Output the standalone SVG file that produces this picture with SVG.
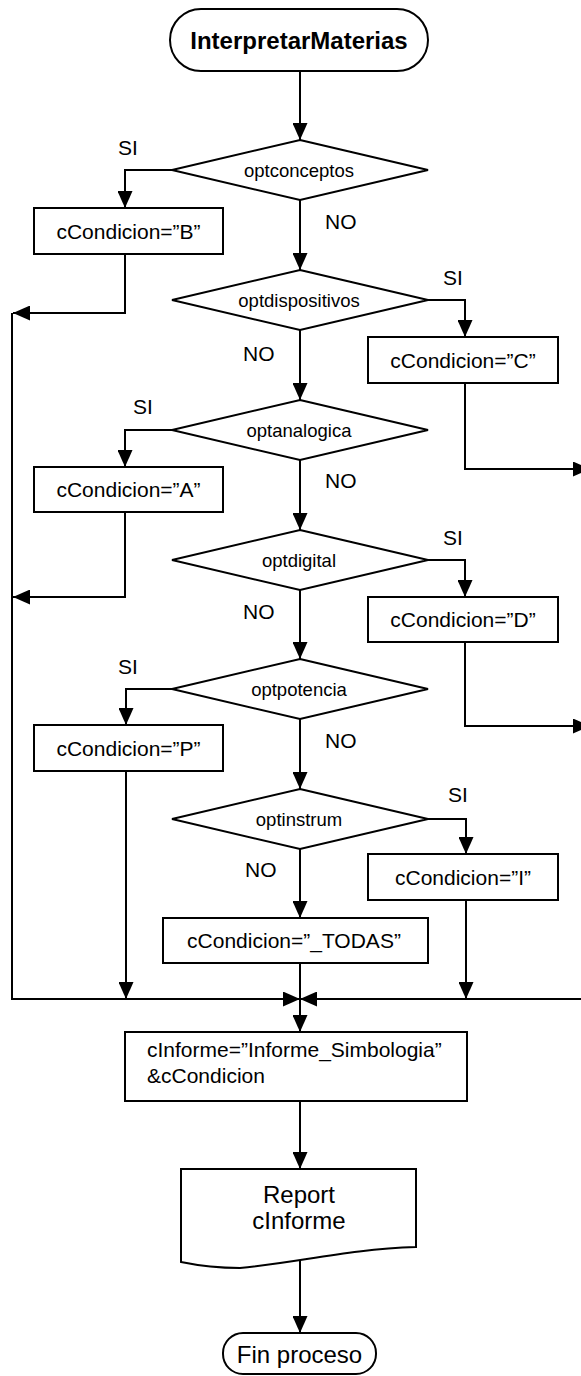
<svg xmlns="http://www.w3.org/2000/svg" width="581" height="1376" viewBox="0 0 581 1376">
  <style>
    .shape { fill: #ffffff; stroke: #000000; stroke-width: 2; }
    .conn { fill: none; stroke: #000000; stroke-width: 2; marker-end: url(#arrow); }
    text { font-family: "Liberation Sans", Arial, sans-serif; fill: #000000; }
    .term { font-size: 24px; font-weight: bold; text-anchor: middle; }
    .io { font-size: 24px; text-anchor: middle; }
    .dec { font-size: 18.5px; text-anchor: middle; }
    .proc { font-size: 21px; text-anchor: middle; }
    .lbl { font-size: 21px; }
  </style>
  <defs>
    <marker id="arrow" markerUnits="userSpaceOnUse" markerWidth="17" markerHeight="15" refX="17" refY="7.5" orient="auto">
      <path d="M0,0 L17,7.5 L0,15 z" fill="#000000"/>
    </marker>
  </defs>
  <rect width="581" height="1376" fill="#ffffff"/>

  <!-- connectors -->
  <g id="connectors">
    <path class="conn" d="M300,71 V140"/>
    <path class="conn" d="M172,170 H125 V208"/>
    <path class="conn" d="M300,200 V270"/>
    <path class="conn" d="M125,254 V313 H13"/>
    <path class="conn" d="M428,300 H465 V337"/>
    <path class="conn" d="M300,330 V400"/>
    <path class="conn" d="M465,383 V469 H590"/>
    <path class="conn" d="M172,430 H125 V467"/>
    <path class="conn" d="M300,460 V530"/>
    <path class="conn" d="M125,512 V597 H13"/>
    <path class="conn" d="M428,560 H465 V597"/>
    <path class="conn" d="M300,590 V659"/>
    <path class="conn" d="M465,642 V726 H590"/>
    <path class="conn" d="M172,689 H126 V725"/>
    <path class="conn" d="M300,719 V789"/>
    <path class="conn" d="M428,819 H466 V854"/>
    <path class="conn" d="M300,849 V918"/>
    <path class="conn" d="M126,771 V999"/>
    <path class="conn" d="M466,900 V999"/>
    <path class="conn" d="M12,313 V999 H300"/>
    <path class="conn" d="M590,469 V999 H300"/>
    <path class="conn" d="M300,963 V1032"/>
    <path class="conn" d="M300,1101 V1169"/>
    <path class="conn" d="M300,1258 V1333"/>
    <!-- branch labels -->
    <text class="lbl" x="118" y="155">SI</text>
    <text class="lbl" x="325" y="229">NO</text>
    <text class="lbl" x="443" y="285">SI</text>
    <text class="lbl" x="243" y="361">NO</text>
    <text class="lbl" x="133" y="414">SI</text>
    <text class="lbl" x="325" y="488">NO</text>
    <text class="lbl" x="443" y="545">SI</text>
    <text class="lbl" x="243" y="619">NO</text>
    <text class="lbl" x="118" y="674">SI</text>
    <text class="lbl" x="325" y="748">NO</text>
    <text class="lbl" x="448" y="802">SI</text>
    <text class="lbl" x="245" y="877">NO</text>
  </g>

  <!-- start terminal -->
  <g id="start">
    <rect class="shape" x="170" y="9" width="258" height="62" rx="31" ry="31"/>
    <text class="term" x="299" y="49">InterpretarMaterias</text>
  </g>

  <!-- decisions -->
  <g id="optconceptos">
    <polygon class="shape" points="300,140 428,170 300,200 172,170"/>
    <text class="dec" x="299" y="177">optconceptos</text>
  </g>
  <g id="optdispositivos">
    <polygon class="shape" points="300,270 428,300 300,330 172,300"/>
    <text class="dec" x="299" y="307">optdispositivos</text>
  </g>
  <g id="optanalogica">
    <polygon class="shape" points="300,400 428,430 300,460 172,430"/>
    <text class="dec" x="299" y="437">optanalogica</text>
  </g>
  <g id="optdigital">
    <polygon class="shape" points="300,530 428,560 300,590 172,560"/>
    <text class="dec" x="299" y="567">optdigital</text>
  </g>
  <g id="optpotencia">
    <polygon class="shape" points="300,659 428,689 300,719 172,689"/>
    <text class="dec" x="299" y="696">optpotencia</text>
  </g>
  <g id="optinstrum">
    <polygon class="shape" points="300,789 428,819 300,849 172,819"/>
    <text class="dec" x="299" y="826">optinstrum</text>
  </g>

  <!-- assignments -->
  <g id="condB">
    <rect class="shape" x="34" y="208" width="189" height="46"/>
    <text class="proc" x="128.5" y="238.5">cCondicion=”B”</text>
  </g>
  <g id="condC">
    <rect class="shape" x="368" y="337" width="190" height="46"/>
    <text class="proc" x="463" y="367.5">cCondicion=”C”</text>
  </g>
  <g id="condA">
    <rect class="shape" x="34" y="467" width="189" height="45"/>
    <text class="proc" x="128.5" y="497">cCondicion=”A”</text>
  </g>
  <g id="condD">
    <rect class="shape" x="368" y="597" width="190" height="45"/>
    <text class="proc" x="463" y="627">cCondicion=”D”</text>
  </g>
  <g id="condP">
    <rect class="shape" x="34" y="725" width="189" height="46"/>
    <text class="proc" x="128.5" y="755.5">cCondicion=”P”</text>
  </g>
  <g id="condI">
    <rect class="shape" x="368" y="854" width="190" height="46"/>
    <text class="proc" x="463" y="884.5">cCondicion=”I”</text>
  </g>
  <g id="condTodas">
    <rect class="shape" x="163" y="918" width="265" height="45"/>
    <text class="proc" x="294" y="948">cCondicion=”_TODAS”</text>
  </g>

  <!-- report name -->
  <g id="informe">
    <rect class="shape" x="125" y="1032" width="342" height="69"/>
    <text class="lbl" x="147" y="1057">cInforme=”Informe_Simbologia”</text>
    <text class="lbl" x="147" y="1083">&amp;cCondicion</text>
  </g>

  <!-- report output (document) -->
  <g id="report">
    <path class="shape" d="M181,1169 H416 V1247 C350,1249 300,1262 240,1268 Q210,1268 181,1262 Z"/>
    <text class="io" x="299" y="1203">Report</text>
    <text class="io" x="299" y="1229">cInforme</text>
  </g>

  <!-- end terminal -->
  <g id="end">
    <rect class="shape" x="223" y="1333" width="153" height="41" rx="20" ry="20"/>
    <text class="io" x="299.5" y="1363">Fin proceso</text>
  </g>
</svg>
